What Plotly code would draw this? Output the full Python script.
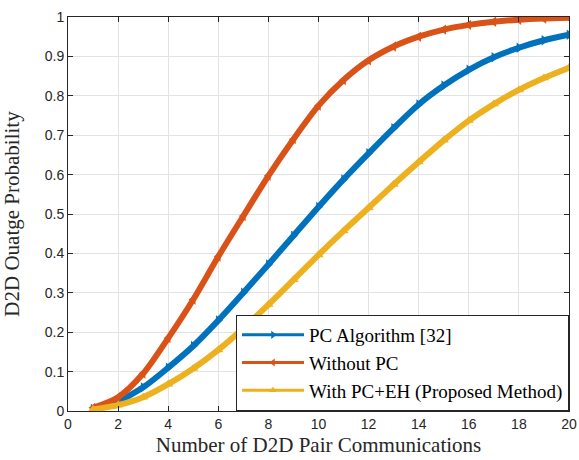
import plotly.graph_objects as go

x_vals = [1, 2, 3, 4, 5, 6, 7, 8, 9, 10, 11, 12, 13, 14, 15, 16, 17, 18, 19, 20]
pc_algorithm = [0.005, 0.025, 0.060, 0.110, 0.165, 0.230, 0.300, 0.372, 0.445, 0.518,
                0.588, 0.654, 0.718, 0.778, 0.826, 0.866, 0.898, 0.922, 0.941, 0.955]
without_pc = [0.008, 0.035, 0.095, 0.185, 0.283, 0.392, 0.495, 0.597, 0.690, 0.775,
              0.840, 0.890, 0.925, 0.950, 0.968, 0.980, 0.988, 0.993, 0.996, 0.998]
with_pc_eh = [0.004, 0.015, 0.035, 0.068, 0.108, 0.155, 0.210, 0.270, 0.333, 0.396,
              0.457, 0.516, 0.575, 0.632, 0.687, 0.737, 0.779, 0.815, 0.845, 0.871]

series = [
    ("PC Algorithm [32]", pc_algorithm, "#0072BD", "triangle-right"),
    ("Without PC", without_pc, "#D95319", "triangle-left"),
    ("With PC+EH (Proposed Method)", with_pc_eh, "#EDB120", "triangle-up"),
]

SERIF = '"Liberation Serif", "Times New Roman", Times, serif'
SANS = '"Liberation Sans", Arial, Helvetica, sans-serif'

fig = go.Figure()
for name, ys, color, sym in series:
    fig.add_trace(go.Scatter(
        x=x_vals, y=ys, name=name, mode="lines+markers", showlegend=False,
        line=dict(color=color, width=6, shape="spline", smoothing=0.8),
        marker=dict(color=color, symbol=sym, size=9),
    ))
for name, ys, color, sym in series:
    fig.add_trace(go.Scatter(
        x=[None], y=[None], name=name, mode="lines+markers",
        line=dict(color=color, width=3),
        marker=dict(color=color, symbol=sym, size=7),
    ))

axis_common = dict(
    showgrid=True, gridcolor="#e3e3e3", gridwidth=1,
    showline=True, linecolor="#262626", linewidth=1, mirror="ticks",
    ticks="inside", ticklen=5, tickcolor="#262626",
    tickfont=dict(family=SANS, size=14, color="#262626"),
    zeroline=False, automargin=False, ticklabeloverflow="allow",
)

fig.update_layout(
    width=579, height=460,
    margin=dict(l=68, r=10, t=17, b=49),
    paper_bgcolor="white", plot_bgcolor="white",
    xaxis=dict(range=[0, 20], tickvals=[0, 2, 4, 6, 8, 10, 12, 14, 16, 18, 20],
               title=dict(text="Number of D2D Pair Communications", standoff=6,
                          font=dict(family=SERIF, size=21, color="#262626")),
               **axis_common),
    yaxis=dict(range=[0, 1], tickvals=[0, 0.1, 0.2, 0.3, 0.4, 0.5, 0.6, 0.7, 0.8, 0.9, 1],
               ticktext=["0", "0.1", "0.2", "0.3", "0.4", "0.5", "0.6", "0.7", "0.8", "0.9", "1"],
               title=dict(text="D2D Ouatge Probability", standoff=23,
                          font=dict(family=SERIF, size=21, color="#262626")),
               **axis_common),
    legend=dict(x=1, y=0, xanchor="right", yanchor="bottom",
                bgcolor="white", bordercolor="#262626", borderwidth=1,
                font=dict(family=SERIF, size=19, color="black"),
                itemwidth=62, tracegroupgap=0),
    showlegend=True,
)

fig.write_html(
    "out.html",
    config={"displayModeBar": False},
    post_script="document.body.style.margin='0';document.body.style.overflow='hidden';",
)
